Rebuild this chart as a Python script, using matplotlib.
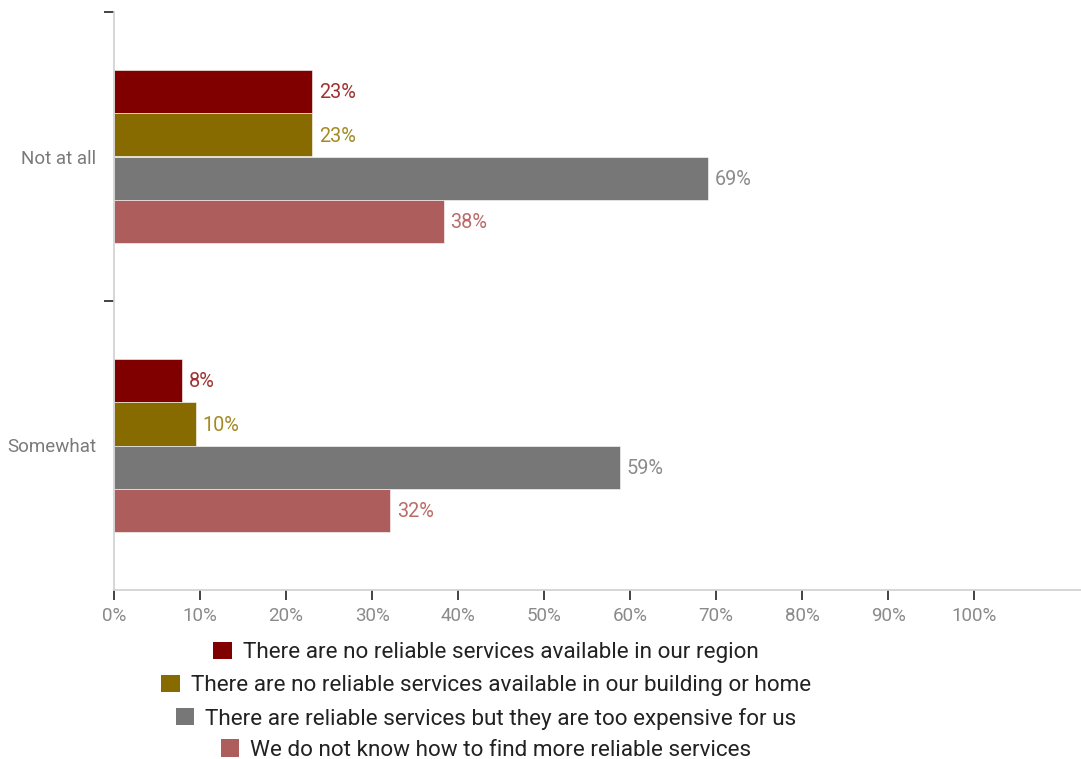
import matplotlib
matplotlib.use("Agg")
import matplotlib.pyplot as plt
from matplotlib.patches import Patch
import numpy as np

plt.rcParams['font.family'] = ['Roboto', 'DejaVu Sans']

categories = ["Not at all", "Somewhat"]
series_names = [
    "There are no reliable services available in our region",
    "There are no reliable services available in our building or home",
    "There are reliable services but they are too expensive for us",
    "We do not know how to find more reliable services",
]
# percent values per series, one entry per category
values = [
    [23.0, 7.9],
    [23.0, 9.5],
    [69.0, 58.8],
    [38.3, 32.1],
]
bar_colors = ["#800000", "#876a00", "#777777", "#ad5e5c"]
label_colors = ["#a0302f", "#a48a24", "#8c8c8c", "#bb6b69"]
x_ticks = list(range(0, 101, 10))
x_ticklabels = [f"{t}%" for t in x_ticks]

W, H = 1081, 759
fig = plt.figure(figsize=(W / 100, H / 100), dpi=100)
ax = fig.add_axes([114 / W, 1 - 590 / H, (W - 114) / W, (590 - 12) / H])

n = len(series_names)
bar_h = 0.15
y_base = np.arange(len(categories))
for i, (name, vals) in enumerate(zip(series_names, values)):
    ys = y_base + (i - (n - 1) / 2) * bar_h
    bars = ax.barh(ys, vals, height=bar_h, color=bar_colors[i],
                   edgecolor="white", linewidth=0.4, label=name)
    for b, v in zip(bars, vals):
        ax.annotate(f"{v:.0f}%", (b.get_width(), b.get_y() + b.get_height() / 2),
                    xytext=(5, -1), textcoords="offset points",
                    ha="left", va="center", fontsize=14.3, color=label_colors[i])

ax.set_xlim(0, 112.4)
ax.set_ylim(len(categories) - 0.5, -0.5)

ax.set_xticks(x_ticks)
ax.set_xticklabels(x_ticklabels)
ax.tick_params(axis="x", length=7, width=1.2, color="#222222",
               labelcolor="#8a8a8a", labelsize=13.5, pad=5)

# category boundaries carry the tick marks, centres carry the labels
ax.set_yticks(np.arange(len(categories)) - 0.5)
ax.set_yticklabels([])
ax.set_yticks(y_base, minor=True)
ax.set_yticklabels(categories, minor=True)
ax.tick_params(axis="y", which="major", length=7, width=1.2, color="#222222")
ax.tick_params(axis="y", which="minor", length=0, labelcolor="#7a7a7a",
               labelsize=13.5, pad=13)

for side in ("top", "right"):
    ax.spines[side].set_visible(False)
for side in ("left", "bottom"):
    ax.spines[side].set_color("#d0d0d0")
    ax.spines[side].set_linewidth(1.2)

# one centred legend row per series
row_y = [652.5, 685.5, 718.5, 750]
for name, col, ry in zip(series_names, bar_colors, row_y):
    fig.legend(handles=[Patch(facecolor=col, edgecolor="none")], labels=[name],
               loc="center", bbox_to_anchor=(486 / W, 1 - ry / H),
               frameon=False, fontsize=16.2, handlelength=0.82, handleheight=0.82,
               handletextpad=0.5, borderpad=0, labelcolor="#222222")

fig.savefig("out.png", dpi=100)
